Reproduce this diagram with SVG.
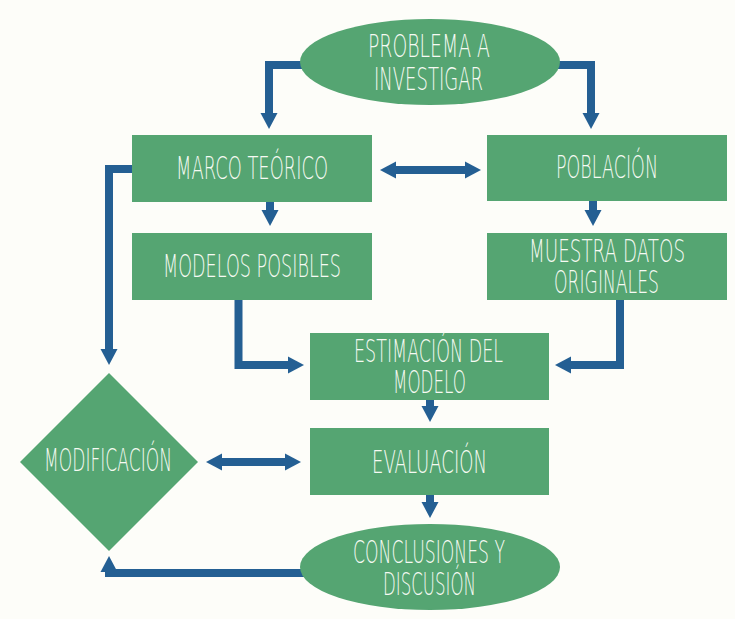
<svg xmlns="http://www.w3.org/2000/svg" width="735" height="619" viewBox="0 0 735 619">
<defs>
<style>
.node{fill:#55a572;}
.lbl{font-family:"DejaVu Sans","Liberation Sans Narrow",sans-serif;font-weight:200;font-size:32px;fill:#f6faf3;text-anchor:middle;}
.con{fill:none;stroke:#245f93;stroke-width:8;stroke-linejoin:miter;}
</style>
<marker id="ah" markerUnits="userSpaceOnUse" viewBox="0 -9 16 18" refX="1" refY="0" markerWidth="16" markerHeight="18" orient="auto-start-reverse">
<path d="M0,-8.5 L16,0 L0,8.5 z" fill="#245f93"/>
</marker>
</defs>
<rect width="735" height="619" fill="#fdfdf9"/>
<g id="connectors">
<path class="con" d="M320,65 H269 V114" marker-end="url(#ah)"/>
<path class="con" d="M540,65 H591 V114" marker-end="url(#ah)"/>
<path class="con" d="M395,170 H466" marker-start="url(#ah)" marker-end="url(#ah)"/>
<path class="con" d="M270,200 V211" marker-end="url(#ah)"/>
<path class="con" d="M593,199 V211" marker-end="url(#ah)"/>
<path class="con" d="M136,169 H109 V350" marker-end="url(#ah)"/>
<path class="con" d="M238.5,298 V365 H289" marker-end="url(#ah)"/>
<path class="con" d="M620,298 V365 H570" marker-end="url(#ah)"/>
<path class="con" d="M430,398 V407" marker-end="url(#ah)"/>
<path class="con" d="M430,493 V503" marker-end="url(#ah)"/>
<path class="con" d="M221,462 H286" marker-start="url(#ah)" marker-end="url(#ah)"/>
<path class="con" d="M320,573 H109 V571" marker-end="url(#ah)"/>
</g>
<g id="problema">
<ellipse class="node" cx="430" cy="62" rx="130" ry="43"/>
<text class="lbl" transform="translate(429,57) scale(0.6,1)" textLength="203.3" lengthAdjust="spacingAndGlyphs">PROBLEMA A</text>
<text class="lbl" transform="translate(428.5,90) scale(0.6,1)" textLength="181.7" lengthAdjust="spacingAndGlyphs">INVESTIGAR</text>
</g>
<g id="marco">
<rect class="node" x="132" y="135" width="240" height="67"/>
<text class="lbl" transform="translate(252,179) scale(0.6,1)" textLength="253.3" lengthAdjust="spacingAndGlyphs">MARCO TEÓRICO</text>
</g>
<g id="poblacion">
<rect class="node" x="487" y="135" width="240" height="66"/>
<text class="lbl" transform="translate(607,178) scale(0.6,1)" textLength="170" lengthAdjust="spacingAndGlyphs">POBLACIÓN</text>
</g>
<g id="modelos">
<rect class="node" x="132" y="233" width="240" height="67"/>
<text class="lbl" transform="translate(252,277) scale(0.6,1)" textLength="296.7" lengthAdjust="spacingAndGlyphs">MODELOS POSIBLES</text>
</g>
<g id="muestra">
<rect class="node" x="487" y="233" width="240" height="67"/>
<text class="lbl" transform="translate(607,262) scale(0.6,1)" textLength="260" lengthAdjust="spacingAndGlyphs">MUESTRA DATOS</text>
<text class="lbl" transform="translate(606.5,293) scale(0.6,1)" textLength="175" lengthAdjust="spacingAndGlyphs">ORIGINALES</text>
</g>
<g id="estimacion">
<rect class="node" x="310" y="333" width="239" height="67"/>
<text class="lbl" transform="translate(428.5,362) scale(0.6,1)" textLength="248.3" lengthAdjust="spacingAndGlyphs">ESTIMACIÓN DEL</text>
<text class="lbl" transform="translate(429.5,393) scale(0.6,1)" textLength="121.7" lengthAdjust="spacingAndGlyphs">MODELO</text>
</g>
<g id="evaluacion">
<rect class="node" x="310" y="428" width="239" height="67"/>
<text class="lbl" transform="translate(429.5,473) scale(0.6,1)" textLength="191.7" lengthAdjust="spacingAndGlyphs">EVALUACIÓN</text>
</g>
<g id="modificacion">
<polygon class="node" points="20,462 109,373 198,462 109,551"/>
<text class="lbl" transform="translate(108,471) scale(0.6,1)" textLength="213.3" lengthAdjust="spacingAndGlyphs">MODIFICACIÓN</text>
</g>
<g id="conclusiones">
<ellipse class="node" cx="430" cy="567" rx="130" ry="43"/>
<text class="lbl" transform="translate(429,563) scale(0.6,1)" textLength="253.3" lengthAdjust="spacingAndGlyphs">CONCLUSIONES Y</text>
<text class="lbl" transform="translate(429.5,595) scale(0.6,1)" textLength="155" lengthAdjust="spacingAndGlyphs">DISCUSIÓN</text>
</g>
</svg>
